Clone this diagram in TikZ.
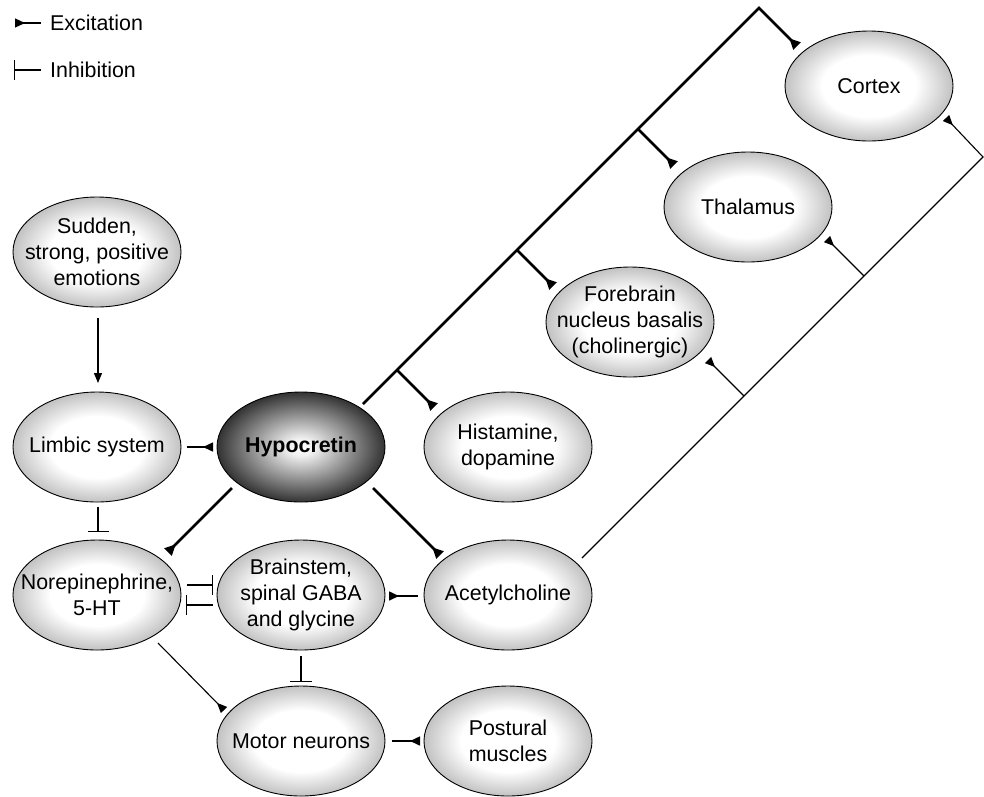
\documentclass[tikz,border=0pt]{standalone}
\usepackage{fontspec}
\setmainfont{Liberation Sans}
\usetikzlibrary{arrows.meta,shapes.geometric,calc}
\pgfdeclareradialshading{bubshade}{\pgfpoint{0bp}{0bp}}{color(0bp)=(white); color(14bp)=(white); color(25bp)=(black!24); color(50bp)=(black!24)}
\pgfdeclareradialshading{hypshade}{\pgfpoint{0bp}{0bp}}{color(0bp)=(white); color(4bp)=(black!6); color(25bp)=(black!80); color(50bp)=(black!80)}
\begin{document}
\begin{tikzpicture}[x=1pt,y=-1pt,
  bub/.style={ellipse, draw=black, line width=0.9pt, minimum width=168pt, minimum height=110pt, inner sep=0pt, shading=bubshade},
  hypbub/.style={bub, shading=hypshade},
  txt/.style={font=\fontsize{21.4}{26}\selectfont, align=center, inner sep=0pt},
  thickl/.style={line width=2.5pt, -{Triangle[reversed,length=11pt,width=10pt]}},
  medl/.style={line width=1.5pt, -{Triangle[reversed,length=10pt,width=9pt]}},
  thinl/.style={line width=1.1pt, -{Triangle[reversed,length=10pt,width=8.5pt]}},
  inhl/.style={line width=1.2pt, -{Bar[width=20pt,line width=1.2pt]}},
  plainarr/.style={line width=1.2pt, -{Triangle[length=10pt,width=8pt]}}
]
\useasboundingbox (0,0) rectangle (984,796);

% ellipses
\node[bub] (sudden) at (97,252) {};
\node[bub] (limbic) at (97,447) {};
\node[hypbub] (hyp) at (301,447) {};
\node[bub] (hist) at (508,447) {};
\node[bub] (fore) at (630,322) {};
\node[bub] (thal) at (748,207) {};
\node[bub] (cortex) at (869,86) {};
\node[bub] (ne) at (97,595) {};
\node[bub] (brain) at (301,595) {};
\node[bub] (ach) at (508,595) {};
\node[bub] (motor) at (301,741) {};
\node[bub] (post) at (508,741) {};

% texts
\node[txt] (sudden-t) at (sudden) {Sudden,\\strong, positive\\emotions};
\node[txt] (limbic-t) at (limbic) {Limbic system};
\node[txt, font=\fontsize{21.4}{26}\selectfont\bfseries] (hyp-t) at (hyp) {Hypocretin};
\node[txt] (hist-t) at (hist) {Histamine,\\dopamine};
\node[txt] (fore-t) at (fore) {Forebrain\\nucleus basalis\\(cholinergic)};
\node[txt] (thal-t) at (thal) {Thalamus};
\node[txt] (cortex-t) at (cortex) {Cortex};
\node[txt] (ne-t) at (ne) {Norepinephrine,\\5-HT};
\node[txt] (brain-t) at (brain) {Brainstem,\\spinal GABA\\and glycine};
\node[txt] (ach-t) at (ach) {Acetylcholine};
\node[txt] (motor-t) at (motor) {Motor neurons};
\node[txt] (post-t) at (post) {Postural\\muscles};

% legend
\node[txt, anchor=west] (exc) at (50,23) {Excitation};
\node[txt, anchor=west] (inh) at (50,70) {Inhibition};
\coordinate (exc-a) at (15,23);
\coordinate (inh-a) at (14,70);
\draw[medl, line width=1.2pt] ($(exc.west)+(-9,0)$) -- (exc-a);
\draw[inhl] ($(inh.west)+(-9,0)$) -- (inh-a);

% main thick branch structure
\coordinate (apex) at (759,8);
\coordinate (b1) at (397,370);
\coordinate (b2) at (517,250);
\coordinate (b3) at (638,129);
\draw[thickl] ($(hyp)+(62,-43)$) -- (apex) -- ($(cortex)+(-72,-40)$);
\draw[thickl] (b1) -- ($(hist)+(-74,-40)$);
\draw[thickl] (b2) -- ($(fore)+(-77,-36)$);
\draw[thickl] (b3) -- ($(thal)+(-74,-42)$);

% thin acetylcholine projection
\coordinate (corner) at (983,157);
\coordinate (c1) at (744,396);
\coordinate (c2) at (864,276);
\draw[thinl] ($(ach)+(74,-37)$) -- (corner) -- ($(cortex)+(77,32)$);
\draw[thinl] (c1) -- ($(fore)+(78,38)$);
\draw[thinl] (c2) -- ($(thal)+(79,32)$);

% other connections
\draw[plainarr] ($(sudden)+(1,66)$) -- ($(limbic)+(1,-64)$);
\draw[medl] ($(limbic)+(90,0)$) -- ($(hyp)+(-88,0)$);
\draw[thickl] ($(hyp)+(-69,41)$) -- ($(ne)+(71,-43)$);
\draw[thickl] ($(hyp)+(72,41)$) -- ($(ach)+(-68,-40)$);
\draw[medl] ($(ach)+(-90,1)$) -- ($(brain)+(88,1)$);
\draw[medl] ($(motor)+(91,0)$) -- ($(post)+(-88,0)$);
\draw[thinl] ($(ne)+(61,48)$) -- ($(motor)+(-77,-31)$);
\draw[inhl] ($(ne)+(90,-10)$) -- ($(brain)+(-88,-10)$);
\draw[inhl] ($(brain)+(-88,10)$) -- ($(ne)+(89,10)$);
\draw[inhl, -{Bar[width=22pt,line width=1.2pt]}] ($(brain)+(0,61)$) -- ($(motor)+(0,-59)$);
\draw[inhl, -{Bar[width=21pt,line width=1.2pt]}] ($(limbic)+(1,60)$) -- ($(ne)+(1,-63)$);
\end{tikzpicture}
\end{document}
